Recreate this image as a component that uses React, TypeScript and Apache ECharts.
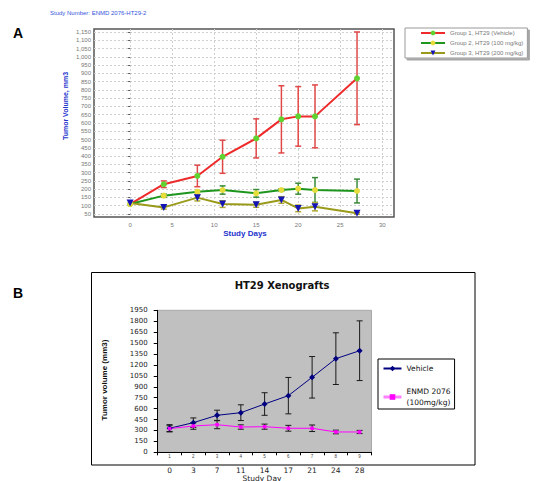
import React, { useEffect, useRef } from "react";
import * as echarts from "echarts";

// ---------- Panel A data ----------
const daysA = [0, 4, 8, 11, 15, 18, 20, 22, 27];
const group1 = [110, 230, 280, 396, 507, 622, 640, 640, 870];
const group1Err = [0, 20, 65, 100, 118, 203, 180, 190, 280];
const group2 = [110, 161, 185, 195, 175, 195, 203, 195, 189];
const group2Err = [0, 10, 0, 25, 23, 8, 33, 75, 72];
const group3 = [116, 90, 149, 110, 106, 135, 84, 94, 54];
const group3Err = [0, 10, 20, 20, 15, 20, 20, 25, 5];
const yTicksA = [50, 100, 150, 200, 250, 300, 350, 400, 450, 500, 550, 600, 650, 700, 750, 800, 850, 900, 950, 1000, 1050, 1100, 1150];
const xTicksA = [0, 5, 10, 15, 20, 25, 30];
const namesA = ["Group 1, HT29 (Vehicle)", "Group 2, HT29 (100 mg/kg)", "Group 3, HT29 (200 mg/kg)"];

// ---------- Panel B data ----------
const catsB = ["1", "2", "3", "4", "5", "6", "7", "8", "9"];
const dayLabelsB = ["0", "3", "7", "11", "14", "17", "21", "24", "28"];
const vehicle = [330, 407, 508, 544, 663, 778, 1030, 1286, 1395];
const vehicleErr = [50, 65, 70, 108, 155, 250, 285, 355, 410];
const enmd = [325, 361, 379, 347, 352, 330, 330, 279, 279];
const enmdErr = [40, 45, 55, 30, 35, 40, 45, 25, 22];
const namesB = ["Vehicle", "ENMD 2076\n(100mg/kg)"];

const ARIAL = "Liberation Sans, Arial, sans-serif";
const DEJAVU = "DejaVu Sans, Verdana, sans-serif";

function errRender(color: string, cap: number, width: number) {
  return (params: any, api: any) => {
    const x = api.value(0);
    const lo = api.coord([x, api.value(1)]);
    const hi = api.coord([x, api.value(2)]);
    const style = { stroke: color, lineWidth: width };
    return {
      type: "group",
      children: [
        { type: "line", shape: { x1: lo[0], y1: lo[1], x2: hi[0], y2: hi[1] }, style },
        { type: "line", shape: { x1: lo[0] - cap, y1: lo[1], x2: lo[0] + cap, y2: lo[1] }, style },
        { type: "line", shape: { x1: hi[0] - cap, y1: hi[1], x2: hi[0] + cap, y2: hi[1] }, style },
      ],
    };
  };
}

function errData(xs: any[], vals: number[], errs: number[]) {
  const out: number[][] = [];
  vals.forEach((v, i) => {
    if (errs[i] > 0) out.push([xs[i] as number, v - errs[i], v + errs[i]]);
  });
  return out;
}

export default function App() {
  const ref = useRef<HTMLDivElement>(null);
  useEffect(() => {
    document.body.style.margin = "0";
    const chart = echarts.init(ref.current!, undefined, { renderer: "svg" });
    const idxB = catsB.map((_, i) => i);
    const option: any = {
      animation: false,
      backgroundColor: "#ffffff",
      grid: [
        { left: 94, top: 29, width: 300, height: 188, show: true, borderColor: "#555", borderWidth: 1.5, backgroundColor: "transparent" },
        { left: 157.7, top: 310.3, width: 213.8, height: 142, show: true, borderColor: "#a8a8a8", borderWidth: 1, backgroundColor: "#c0c0c0" },
      ],
      xAxis: [
        {
          type: "value", gridIndex: 0, min: -4.3, max: 31.4,
          axisLine: { show: false },
          axisTick: { show: false, customValues: xTicksA },
          axisLabel: { customValues: xTicksA, fontSize: 6, color: "#777", margin: 5, fontFamily: ARIAL },
          splitLine: { show: true, lineStyle: { color: "#cfcfcf", type: [2, 2], width: 1 } },
        },
        {
          type: "category", gridIndex: 1, data: catsB, boundaryGap: true,
          axisLine: { show: true, lineStyle: { color: "#000", width: 1 } },
          axisTick: { show: true, length: 3, lineStyle: { color: "#000" } },
          axisLabel: { fontSize: 4.5, color: "#444", margin: 2, fontFamily: ARIAL },
          splitLine: { show: false },
        },
        {
          type: "category", gridIndex: 1, data: dayLabelsB, boundaryGap: true, position: "bottom", offset: 12,
          axisLine: { show: false }, axisTick: { show: false },
          axisLabel: { fontSize: 7.5, color: "#222", margin: 2, fontFamily: DEJAVU },
          splitLine: { show: false },
        },
      ],
      yAxis: [
        {
          type: "value", gridIndex: 0, min: 32, max: 1168,
          axisLine: { show: false },
          axisTick: { show: true, length: 2, customValues: yTicksA, lineStyle: { color: "#555" } },
          axisLabel: {
            customValues: yTicksA, fontSize: 6, color: "#777", margin: 3, fontFamily: ARIAL,
            formatter: (v: number) => v.toLocaleString("en-US"),
          },
          splitLine: { show: true, lineStyle: { color: "#cfcfcf", type: [2, 2], width: 1 } },
        },
        {
          type: "value", gridIndex: 1, min: 0, max: 1950, interval: 150,
          axisLine: { show: true, lineStyle: { color: "#000", width: 1 } },
          axisTick: { show: true, length: 4, lineStyle: { color: "#000" } },
          axisLabel: { fontSize: 7, color: "#222", margin: 10, fontFamily: DEJAVU, formatter: (v: number) => String(v) },
          splitLine: { show: false },
        },
      ],
      legend: [
        {
          data: namesA, orient: "vertical", left: 405, top: 28,
          padding: [2, 4, 2, 15], itemGap: 4, itemWidth: 24, itemHeight: 6,
          textStyle: { fontSize: 6, color: "#777", fontFamily: ARIAL },
          borderColor: "#999", borderWidth: 1, backgroundColor: "#fff",
          shadowColor: "rgba(0,0,0,0.35)", shadowOffsetX: 2, shadowOffsetY: 2, shadowBlur: 1,
          selectedMode: false,
        },
        {
          data: [
            { name: namesB[0] },
            { name: namesB[1], lineStyle: { color: "#ff80ff", width: 3 } },
          ],
          orient: "vertical", left: 378, top: 359,
          padding: [4, 4, 1, 4], itemGap: 12, itemWidth: 18, itemHeight: 7,
          textStyle: { fontSize: 7.5, color: "#111", fontFamily: DEJAVU, lineHeight: 11 },
          borderColor: "#000", borderWidth: 1, backgroundColor: "#fff",
          selectedMode: false,
        },
      ],
      series: [
        // Panel A error bars
        { type: "custom", xAxisIndex: 0, yAxisIndex: 0, renderItem: errRender("#e04848", 3, 1.5), encode: { x: 0, y: [1, 2] }, data: errData(daysA, group1, group1Err), silent: true },
        { type: "custom", xAxisIndex: 0, yAxisIndex: 0, renderItem: errRender("#3a8a3a", 3, 1.5), encode: { x: 0, y: [1, 2] }, data: errData(daysA, group2, group2Err), silent: true },
        { type: "custom", xAxisIndex: 0, yAxisIndex: 0, renderItem: errRender("#b0aa30", 3, 1.5), encode: { x: 0, y: [1, 2] }, data: errData(daysA, group3, group3Err), silent: true },
        // Panel A lines
        {
          name: namesA[0], type: "line", xAxisIndex: 0, yAxisIndex: 0,
          data: daysA.map((d, i) => [d, group1[i]]),
          symbol: "circle", symbolSize: 6,
          lineStyle: { color: "#ee2a2a", width: 2 }, itemStyle: { color: "#5fd32f" },
        },
        {
          name: namesA[1], type: "line", xAxisIndex: 0, yAxisIndex: 0,
          data: daysA.map((d, i) => [d, group2[i]]),
          symbol: "circle", symbolSize: 6,
          lineStyle: { color: "#1e961e", width: 2 }, itemStyle: { color: "#e6dc3c" },
        },
        {
          name: namesA[2], type: "line", xAxisIndex: 0, yAxisIndex: 0,
          data: daysA.map((d, i) => [d, group3[i]]),
          symbol: "triangle", symbolRotate: 180, symbolSize: 7,
          lineStyle: { color: "#9a9a1a", width: 2 }, itemStyle: { color: "#1414b4" },
        },
        // Panel B error bars
        { type: "custom", xAxisIndex: 1, yAxisIndex: 1, renderItem: errRender("#1a1a1a", 3, 1), encode: { x: 0, y: [1, 2] }, data: errData(idxB, vehicle, vehicleErr), silent: true },
        { type: "custom", xAxisIndex: 1, yAxisIndex: 1, renderItem: errRender("#1a1a1a", 3, 1), encode: { x: 0, y: [1, 2] }, data: errData(idxB, enmd, enmdErr), silent: true },
        // Panel B lines
        {
          name: namesB[0], type: "line", xAxisIndex: 1, yAxisIndex: 1, data: vehicle,
          symbol: "diamond", symbolSize: 6,
          lineStyle: { color: "#000080", width: 1 }, itemStyle: { color: "#000080" },
        },
        {
          name: namesB[1], type: "line", xAxisIndex: 1, yAxisIndex: 1, data: enmd,
          symbol: "rect", symbolSize: 3.5,
          lineStyle: { color: "#ff00ff", width: 1 }, itemStyle: { color: "#ff00ff" },
        },
      ],
      graphic: [
        { type: "text", left: 50, top: 10, style: { text: "Study Number: ENMD 2076-HT29-2", fontSize: 6, fill: "#3355dd", fontFamily: ARIAL } },
        { type: "text", x: 13, y: 33, style: { text: "A", fontSize: 14, fontWeight: "bold", fill: "#000", fontFamily: ARIAL, verticalAlign: "middle" } },
        { type: "text", x: 65, y: 106, rotation: Math.PI / 2, style: { text: "Tumor Volume, mm3", fontSize: 7, fontWeight: "bold", fill: "#2233cc", fontFamily: ARIAL, align: "center", verticalAlign: "middle" } },
        { type: "text", x: 245, y: 233, style: { text: "Study Days", fontSize: 8, fontWeight: "bold", fill: "#2233cc", fontFamily: ARIAL, align: "center", verticalAlign: "middle" } },
        // checkboxes in legend A
        { type: "rect", shape: { x: 407.5, y: 31, width: 4, height: 4 }, style: { fill: "#fff", stroke: "#666", lineWidth: 0.8 } },
        { type: "rect", shape: { x: 407.5, y: 41, width: 4, height: 4 }, style: { fill: "#fff", stroke: "#666", lineWidth: 0.8 } },
        { type: "rect", shape: { x: 407.5, y: 51, width: 4, height: 4 }, style: { fill: "#fff", stroke: "#666", lineWidth: 0.8 } },
        // Panel B
        { type: "text", x: 13, y: 293, style: { text: "B", fontSize: 14, fontWeight: "bold", fill: "#000", fontFamily: ARIAL, verticalAlign: "middle" } },
        { type: "rect", z: -1, shape: { x: 91.5, y: 272.5, width: 383.5, height: 192.5 }, style: { fill: "none", stroke: "#000", lineWidth: 1 } },
        { type: "text", x: 282, y: 285, style: { text: "HT29 Xenografts", fontSize: 10, fontWeight: "bold", fill: "#111", fontFamily: DEJAVU, align: "center", verticalAlign: "middle" } },
        { type: "text", x: 104, y: 380, rotation: Math.PI / 2, style: { text: "Tumor volume (mm3)", fontSize: 8, fontWeight: "bold", fill: "#111", fontFamily: ARIAL, align: "center", verticalAlign: "middle" } },
        { type: "text", x: 262, y: 478, style: { text: "Study Day", fontSize: 7.5, fill: "#222", fontFamily: DEJAVU, align: "center", verticalAlign: "middle" } },
      ],
    };
    chart.setOption(option);
    return () => chart.dispose();
  }, []);
  return <div ref={ref} style={{ width: 539, height: 481 }} />;
}
